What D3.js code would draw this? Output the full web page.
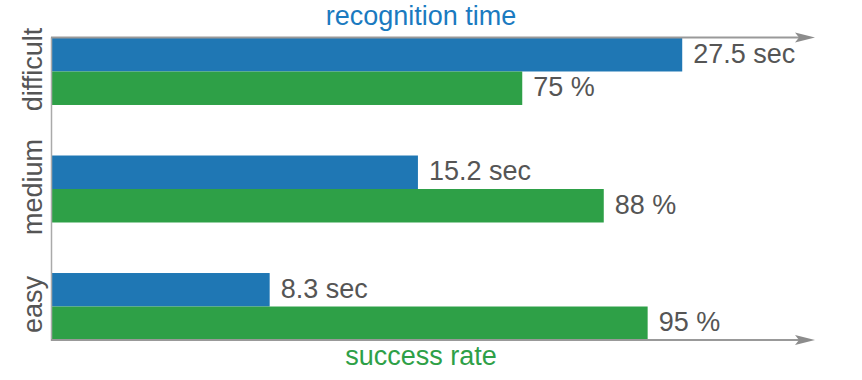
<!DOCTYPE html>
<html>
<head>
<meta charset="utf-8">
<script src="https://cdn.jsdelivr.net/npm/d3@7"></script>
<style>
  html, body { margin: 0; padding: 0; background: #fff; }
  svg { display: block; font-family: "Liberation Sans", Arial, sans-serif; }
</style>
</head>
<body>
<svg id="chart" width="862" height="380"></svg>
<script>
// ---- data ----
const categories = ["difficult", "medium", "easy"];
const recognitionTime = [27.5, 15.2, 8.3];   // sec
const successRate = [75, 88, 95];            // %
const timeUnit = "sec";
const rateUnit = "%";
const topAxisTitle = "recognition time";
const bottomAxisTitle = "success rate";

// ---- styles / layout ----
const x0 = 52, xEnd = 815, yTop = 37.5, yBottom = 340;
const blue = "#1f77b4", green = "#2ea047";
const axisGray = "#999999", textGray = "#555555";
const fs = 27;

const svg = d3.select("#chart");

const y = d3.scaleBand().domain(categories).range([38, 340]).paddingInner(0.43).paddingOuter(0);
const ySub = d3.scaleBand().domain(["time", "rate"]).range([0, y.bandwidth()]).padding(0);
const xTime = d3.scaleLinear().domain([-1.83, 27.35]).range([x0, 679]);
const xRate = d3.scaleLinear().domain([0, 100]).range([x0, 679]);

const rows = categories.map((c, i) => ({ cat: c, time: recognitionTime[i], rate: successRate[i] }));

// bars
const g = svg.append("g");
rows.forEach(r => {
  const yb = y(r.cat);
  g.append("rect")
    .attr("x", x0).attr("y", yb + ySub("time"))
    .attr("width", xTime(r.time) - x0).attr("height", ySub.bandwidth())
    .attr("fill", blue);
  g.append("rect")
    .attr("x", x0).attr("y", yb + ySub("rate"))
    .attr("width", xRate(r.rate) - x0).attr("height", ySub.bandwidth())
    .attr("fill", green);
  g.append("text")
    .attr("x", xTime(r.time) + 11).attr("y", yb + ySub("time") + ySub.bandwidth() / 2 + 8)
    .attr("font-size", fs).attr("fill", textGray)
    .text(r.time + " " + timeUnit);
  g.append("text")
    .attr("x", xRate(r.rate) + 11).attr("y", yb + ySub("rate") + ySub.bandwidth() / 2 + 8)
    .attr("font-size", fs).attr("fill", textGray)
    .text(r.rate + " " + rateUnit);
  g.append("text")
    .attr("transform", `translate(42,${yb + y.bandwidth() / 2 - 2}) rotate(-90)`)
    .attr("text-anchor", "middle")
    .attr("font-size", fs).attr("fill", textGray)
    .text(r.cat);
});

// axes
const axes = svg.append("g");
axes.append("line").attr("x1", x0 - 0.5).attr("x2", x0 - 0.5).attr("y1", yTop).attr("y2", yBottom + 1)
  .attr("stroke", "#aaaaaa").attr("stroke-width", 1.5);
[yTop, yBottom].forEach(yy => {
  axes.append("line").attr("x1", x0 - 1).attr("x2", xEnd - 12).attr("y1", yy).attr("y2", yy)
    .attr("stroke", axisGray).attr("stroke-width", 1.8);
  axes.append("path")
    .attr("d", `M${xEnd},${yy} L${xEnd - 20},${yy - 5} L${xEnd - 16},${yy} L${xEnd - 20},${yy + 5} Z`)
    .attr("fill", "#8c8c8c");
});

// axis titles
svg.append("text").attr("x", 421).attr("y", 25).attr("text-anchor", "middle")
  .attr("font-size", fs).attr("fill", "#1a7ac0").text(topAxisTitle);
svg.append("text").attr("x", 421).attr("y", 365).attr("text-anchor", "middle")
  .attr("font-size", fs).attr("fill", "#2ea047").text(bottomAxisTitle);
</script>
</body>
</html>
